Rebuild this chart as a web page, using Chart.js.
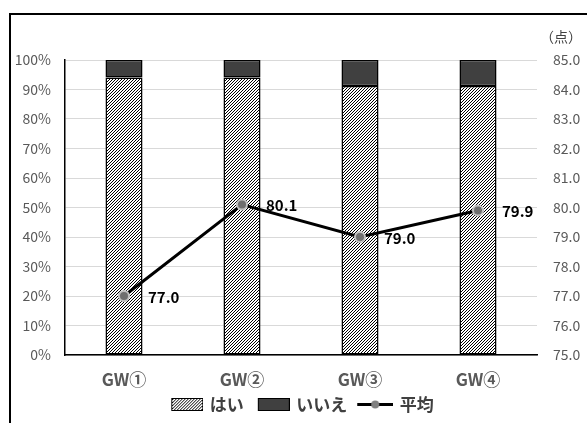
<!DOCTYPE html>
<html>
<head>
<meta charset="utf-8">
<script src="https://cdn.jsdelivr.net/npm/chart.js@4"></script>
<style>
  body { margin: 0; background: #fff; }
  #wrap { position: relative; width: 587px; height: 423px; overflow: hidden; }
  #frame { position: absolute; left: 9px; top: 13px; width: 700px; height: 600px; border: 2px solid #000; box-sizing: border-box; }
  canvas { position: absolute; left: 0; top: 0; }
</style>
</head>
<body>
<div id="wrap">
  <div id="frame"></div>
  <canvas id="chart" width="587" height="423"></canvas>
</div>
<script>
// data
const categories = ["GW①", "GW②", "GW③", "GW④"];
const yesValues = [94.1, 94.1, 91.2, 91.2];
const noValues = [5.9, 5.9, 8.8, 8.8];
const avgValues = [77.0, 80.1, 79.0, 79.9];
const seriesNames = ["はい", "いいえ", "平均"];

const FONT = "'Noto Sans CJK JP', 'Noto Sans', sans-serif";

// hatch pattern for はい
function hatchTile() {
  const c = document.createElement("canvas");
  c.width = 3; c.height = 3;
  const g = c.getContext("2d");
  g.fillStyle = "#fff";
  g.fillRect(0, 0, 3, 3);
  g.strokeStyle = "#000";
  g.lineWidth = 1;
  g.beginPath();
  g.moveTo(0, 3); g.lineTo(3, 0);
  g.moveTo(-1, 1); g.lineTo(1, -1);
  g.moveTo(2, 4); g.lineTo(4, 2);
  g.stroke();
  return c;
}

const ctx = document.getElementById("chart").getContext("2d");
const hatch = ctx.createPattern(hatchTile(), "repeat");

// legend markers (blank strip on the left gives the gap between items)
function boxMarker(fill) {
  const c = document.createElement("canvas");
  c.width = 44; c.height = 13;
  const g = c.getContext("2d");
  g.fillStyle = fill === "hatch" ? g.createPattern(hatchTile(), "repeat") : fill;
  g.fillRect(12, 0, 32, 13);
  g.strokeStyle = "#000";
  g.lineWidth = 1;
  g.strokeRect(12.5, 0.5, 31, 12);
  return c;
}
function lineMarker() {
  const c = document.createElement("canvas");
  c.width = 44; c.height = 13;
  const g = c.getContext("2d");
  g.strokeStyle = "#000";
  g.lineWidth = 3;
  g.beginPath(); g.moveTo(8, 6.5); g.lineTo(44, 6.5); g.stroke();
  g.fillStyle = "#808080";
  g.beginPath(); g.arc(26, 6.5, 4, 0, Math.PI * 2); g.fill();
  return c;
}
const markers = [boxMarker("hatch"), boxMarker("#404040"), lineMarker()];

// value labels next to the average points
const pointLabels = {
  id: "pointLabels",
  afterDatasetsDraw(chart) {
    const meta = chart.getDatasetMeta(2);
    const c = chart.ctx;
    c.save();
    c.font = "bold 15px " + FONT;
    c.fillStyle = "#000";
    c.textAlign = "left";
    c.textBaseline = "middle";
    meta.data.forEach((pt, i) => {
      c.fillText(avgValues[i].toFixed(1), pt.x + 24, pt.y + 1);
    });
    c.restore();
  }
};

// unit label above right axis, legend nudged to sit under the plot centre
const extras = {
  id: "extras",
  afterLayout(chart) {
    chart.legend.left += 4;
    chart.legend.right += 4;
  },
  afterDraw(chart) {
    const c = chart.ctx;
    c.save();
    c.font = "14px " + FONT;
    c.fillStyle = "#404040";
    c.textAlign = "left";
    c.textBaseline = "middle";
    c.fillText("（点）", chart.chartArea.right + 3, chart.chartArea.top - 23);
    c.restore();
  }
};

new Chart(ctx, {
  type: "bar",
  data: {
    labels: categories,
    datasets: [
      {
        label: seriesNames[0],
        data: yesValues,
        backgroundColor: hatch,
        borderColor: "#000",
        borderWidth: 1.5,
        borderSkipped: false,
        order: 2
      },
      {
        label: seriesNames[1],
        data: noValues,
        backgroundColor: "#404040",
        borderColor: "#000",
        borderWidth: 1.5,
        borderSkipped: false,
        order: 2
      },
      {
        type: "line",
        label: seriesNames[2],
        data: avgValues,
        yAxisID: "y1",
        borderColor: "#000",
        borderWidth: 3,
        pointStyle: "circle",
        pointRadius: 5,
        pointBackgroundColor: "#6f6f6f",
        pointBorderColor: "#c0c0c0",
        pointBorderWidth: 2,
        tension: 0,
        order: 0
      }
    ]
  },
  options: {
    responsive: false,
    animation: false,
    datasets: { bar: { barPercentage: 0.314, categoryPercentage: 1 } },
    layout: { padding: { top: 60, left: 0, right: 0, bottom: 0 } },
    plugins: {
      tooltip: { enabled: false },
      legend: {
        position: "bottom",
        labels: {
          usePointStyle: true,
          pointStyleWidth: 40,
          boxHeight: 13,
          padding: 4,
          color: "#404040",
          font: { family: FONT, size: 17, weight: "bold" },
          generateLabels() {
            return seriesNames.map((name, i) => ({
              text: name,
              pointStyle: markers[i],
              datasetIndex: i,
              hidden: false,
              lineWidth: 0,
              fontColor: "#404040"
            }));
          }
        }
      }
    },
    scales: {
      x: {
        stacked: true,
        grid: { display: false },
        border: { color: "#000", width: 1.5 },
        ticks: { color: "#595959", padding: 6, font: { family: FONT, size: 17, weight: "bold" } },
        afterFit(s) { s.height = 37; }
      },
      y: {
        stacked: true,
        min: 0,
        max: 100,
        grid: { color: "#d9d9d9", drawTicks: false },
        border: { color: "#000", width: 1.5 },
        ticks: {
          stepSize: 10,
          padding: 14,
          color: "#595959",
          font: { family: FONT, size: 14 },
          callback: v => v + "%"
        },
        afterFit(s) { s.width = 65; }
      },
      y1: {
        position: "right",
        min: 75,
        max: 85,
        grid: { display: false, drawTicks: false },
        border: { display: false },
        ticks: {
          stepSize: 1,
          padding: 16,
          color: "#595959",
          font: { family: FONT, size: 14 },
          callback: v => v.toFixed(1)
        },
        afterFit(s) { s.width = 50; }
      }
    }
  },
  plugins: [pointLabels, extras]
});
</script>
</body>
</html>
